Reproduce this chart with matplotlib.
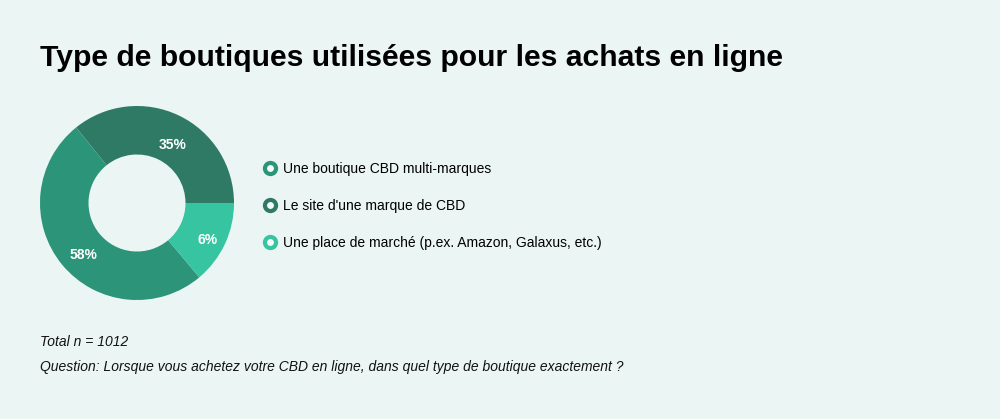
import numpy as np
import matplotlib.pyplot as plt
from matplotlib.lines import Line2D

# shares as drawn, labels as printed
categories = ["Le site d'une marque de CBD",
              "Une boutique CBD multi-marques",
              "Une place de marché (p.ex. Amazon, Galaxus, etc.)"]
shares = [35.8, 50.3, 13.9]
pct_labels = ["35%", "58%", "6%"]
colors = ["#2f7a64", "#2b9479", "#36c4a1"]

# legend order as shown on the right
legend_order = [1, 0, 2]

title = "Type de boutiques utilisées pour les achats en ligne"
note_total = "Total n = 1012"
note_question = "Question: Lorsque vous achetez votre CBD en ligne, dans quel type de boutique exactement ?"

bg = "#ebf5f4"
plt.rcParams["font.family"] = ["Liberation Sans", "DejaVu Sans"]

fig = plt.figure(figsize=(10, 4.19), dpi=100, facecolor=bg)

# donut
W, H = 1000, 419
cx, cy, r = 137, 203, 97
ax = fig.add_axes([(cx - r) / W, (H - cy - r) / H, 2 * r / W, 2 * r / H])
ax.set_facecolor(bg)
wedges, _ = ax.pie(shares, colors=colors, startangle=0, counterclock=True,
                   radius=1, wedgeprops=dict(width=0.5, linewidth=0))
for w, lab in zip(wedges, pct_labels):
    mid = np.deg2rad((w.theta1 + w.theta2) / 2)
    ax.text(0.76 * np.cos(mid) + 0.04, 0.74 * np.sin(mid) - 0.07, lab,
            ha="center", va="center", color="white", fontsize=10, fontweight="bold")
ax.set_xlim(-1, 1)
ax.set_ylim(-1, 1)
ax.set_aspect("equal")
ax.axis("off")

# legend
handles = [Line2D([], [], linestyle="none", marker="o", markersize=8,
                  markerfacecolor="#f4fbf9", markeredgecolor=colors[i],
                  markeredgewidth=3) for i in legend_order]
fig.legend(handles, [categories[i] for i in legend_order],
           loc="upper left", bbox_to_anchor=(259 / W, 1 - 155 / H),
           frameon=False, fontsize=10, labelspacing=1.65,
           handlelength=0.6, handletextpad=0.6, borderpad=0)

fig.text(40 / W, 1 - 58 / H, title, fontsize=21.7, fontweight="bold",
         va="center", ha="left", color="black")
fig.text(40 / W, 1 - 342 / H, note_total, fontsize=10, style="italic",
         va="center", ha="left", color="#111111")
fig.text(40 / W, 1 - 367 / H, note_question, fontsize=10, style="italic",
         va="center", ha="left", color="#111111")

fig.savefig("out.png", dpi=100, facecolor=bg)
